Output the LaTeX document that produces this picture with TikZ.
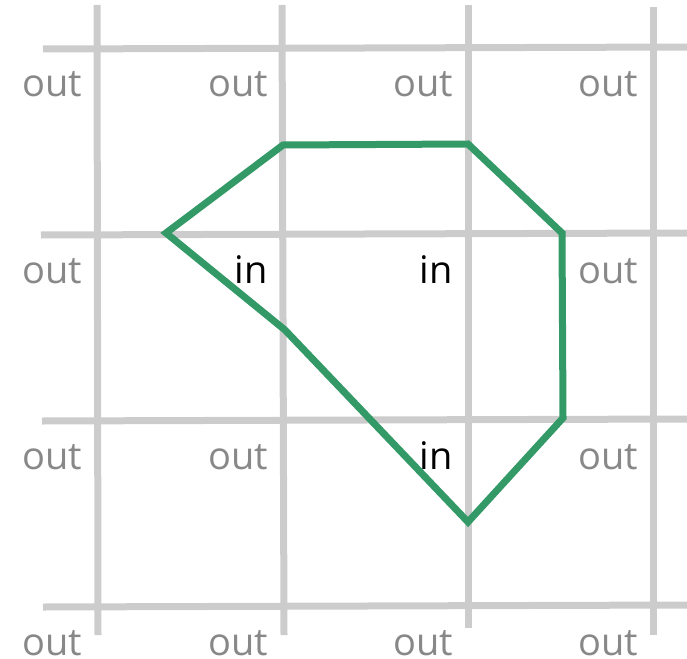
\documentclass[tikz,border=0pt]{standalone}
\usepackage{fontspec}
\setmainfont{Open Sans}
\usetikzlibrary{positioning}
\definecolor{gridgray}{HTML}{CCCCCC}
\definecolor{outgray}{HTML}{888888}
\definecolor{hullgreen}{HTML}{339966}
\begin{document}
\begin{tikzpicture}[x=1pt, y=-1pt,
  grid line/.style={gridgray, line width=7pt},
  hull/.style={hullgreen, line width=7pt, line join=miter},
  lbl/.style={anchor=base east, inner sep=0pt, font=\fontsize{38}{38}\selectfont},
  lbl out/.style={lbl, outgray},
  lbl in/.style={lbl, black}]

\useasboundingbox (0,0) rectangle (687,658);

\pgfmathsetmacro{\dx}{15}
\pgfmathsetmacro{\dy}{49}

% grid points
\foreach \i/\x in {1/97, 2/283, 3/468, 4/653}
  \foreach \j/\y in {1/48, 2/234, 3/420, 4/606}
    \coordinate (g\i\j) at (\x, \y);

% grid lines
\draw[grid line] (97, 5) -- (98, 635);
\draw[grid line] (282, 5) -- (284, 635);
\draw[grid line] (468, 5) -- (468, 628);
\draw[grid line] (653, 7) -- (653, 635);

\draw[grid line] (43, 49) -- (687, 47);
\draw[grid line] (41, 235) -- (687, 233);
\draw[grid line] (42, 421) -- (687, 419);
\draw[grid line] (43, 607) -- (687, 605);

% labels
\foreach \c in {11,21,31,41, 12,42, 13,23,43, 14,24,34,44}
  \node[lbl out] (l\c) at ([xshift=-\dx pt, yshift=-\dy pt]g\c) {out};
\foreach \c in {22,32,33}
  \node[lbl in] (l\c) at ([xshift=-\dx pt, yshift=-\dy pt]g\c) {in};

% hull
\coordinate (A) at (166, 233);
\coordinate (B) at (283, 145);
\coordinate (C) at (468, 144);
\coordinate (D) at (562, 233);
\coordinate (E) at (563, 418);
\coordinate (F) at (468, 522);
\coordinate (G) at (285, 330);

\draw[hull] (A) -- (B) -- (C) -- (D) -- (E) -- (F) -- (G) -- cycle;

\end{tikzpicture}
\end{document}
